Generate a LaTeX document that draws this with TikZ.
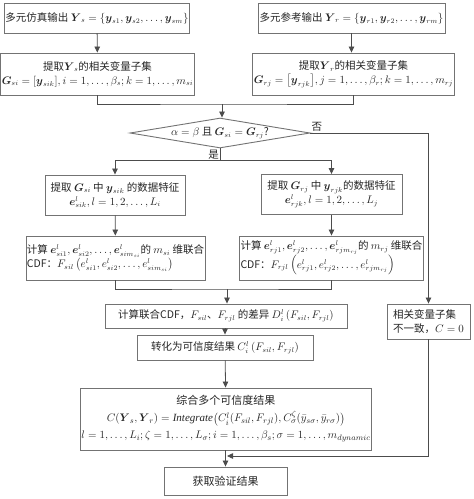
\documentclass[tikz,border=0pt]{standalone}
\usepackage{amsmath}
\usepackage{fontspec}
\setmainfont{Liberation Serif}
\newfontfamily\cjk{Noto Sans CJK SC}
\usetikzlibrary{shapes.geometric,arrows.meta}

\begin{document}
\begin{tikzpicture}[x=1pt, y=-1pt,
  box/.style={draw=black!55, line width=0.9pt, fill=white, inner sep=1pt,
    font=\cjk\fontsize{10.5}{14}\selectfont, text=black!85, align=center},
  link/.style={draw=black!70, line width=0.8pt},
  flow/.style={link, -{Triangle[length=6pt,width=5.5pt]}}]
  \useasboundingbox (0,0) rectangle (474,499);

  % Outputs of simulation and reference
  \node[box, minimum width=184pt, minimum height=30pt] (ys) at (97,18)
    {多元仿真输出 $\boldsymbol{Y}_s=\{\boldsymbol{y}_{s1},\boldsymbol{y}_{s2},\dots,\boldsymbol{y}_{sm}\}$};
  \node[box, minimum width=187pt, minimum height=30pt] (yr) at (351.5,18)
    {多元参考输出 $\boldsymbol{Y}_r=\{\boldsymbol{y}_{r1},\boldsymbol{y}_{r2},\dots,\boldsymbol{y}_{rm}\}$};

  % Related variable subsets
  \node[box, minimum width=185pt, minimum height=42pt] (gs) at (97.5,74)
    {提取$\boldsymbol{Y}_s$的相关变量子集\\
     $\boldsymbol{G}_{si}=\left[\boldsymbol{y}_{sik}\right]\!, i=1,\dots,\beta_s; k=1,\dots,m_{si}$};
  \node[box, minimum width=189pt, minimum height=42pt] (gr) at (353.5,74)
    {提取$\boldsymbol{Y}_r$的相关变量子集\\
     $\boldsymbol{G}_{rj}=\left[\boldsymbol{y}_{rjk}\right]\!, j=1,\dots,\beta_r; k=1,\dots,m_{rj}$};

  % Decision
  \node[box, shape=diamond, aspect=6, inner sep=0pt, minimum width=180pt, minimum height=30pt] (dia) at (220,133)
    {$\alpha=\beta$ 且 $\boldsymbol{G}_{si}=\boldsymbol{G}_{rj}$?};

  % Data features
  \node[box, minimum width=140pt, minimum height=40pt] (es) at (115,195)
    {提取 $\boldsymbol{G}_{si}$ 中 $\boldsymbol{y}_{sik}$ 的数据特征\\
     $\boldsymbol{e}^{l}_{sik}, l=1,2,\dots,L_i$};
  \node[box, minimum width=141pt, minimum height=40pt] (er) at (331.5,194.5)
    {提取 $\boldsymbol{G}_{rj}$ 中 $\boldsymbol{y}_{rjk}$的数据特征\\
     $\boldsymbol{e}^{l}_{rjk}, l=1,2,\dots,L_j$};

  % Joint CDF
  \node[box, align=left, minimum width=175pt, minimum height=44pt] (fs) at (115.5,258)
    {计算 $\boldsymbol{e}^l_{si1},\boldsymbol{e}^l_{si2},\dots,\boldsymbol{e}^l_{sim_{si}}$的 $m_{si}$ 维联合\\
     CDF：$F_{sil}\left(e^l_{si1},e^l_{si2},\dots,e^l_{sim_{si}}\right)$};
  \node[box, align=left, minimum width=177pt, minimum height=44pt] (fr) at (331.5,258)
    {计算 $\boldsymbol{e}^l_{rj1},\boldsymbol{e}^l_{rj2},\dots,\boldsymbol{e}^l_{rjm_{rj}}$的 $m_{rj}$ 维联合\\
     CDF：$F_{rjl}\left(e^l_{rj1},e^l_{rj2},\dots,e^l_{rjm_{rj}}\right)$};

  % Difference and credibility
  \node[box, minimum width=242pt, minimum height=24pt] (dd) at (226,316)
    {计算联合CDF，$F_{sil}$、$F_{rjl}$ 的差异 $D^l_i\left(F_{sil},F_{rjl}\right)$};
  \node[box, minimum width=176pt, minimum height=25pt] (cc) at (225,347.5)
    {转化为可信度结果 $C^l_i\left(F_{sil},F_{rjl}\right)$};

  % Inconsistent subsets
  \node[box, align=left, minimum width=83pt, minimum height=35pt] (no) at (428.5,321.5)
    {相关变量子集\\不一致，$C=0$};

  % Integration and result
  \node[box, font=\cjk\fontsize{11}{17}\selectfont, minimum width=262pt, minimum height=62pt] (intg) at (226,419)
    {综合多个可信度结果\\
     $C(\boldsymbol{Y}_s,\boldsymbol{Y}_r)=\mathit{Integrate}\bigl(C^l_i(F_{sil},F_{rjl}),C^{\zeta}_{\sigma}(\bar{y}_{s\sigma},\bar{y}_{r\sigma})\bigr)$\\
     $l=1,\dots,L_i;\zeta=1,\dots,L_\sigma;i=1,\dots,\beta_s;\sigma=1,\dots,m_{dynamic}$};
  \node[box, font=\cjk\fontsize{11}{14}\selectfont, minimum width=123pt, minimum height=28pt] (res) at (225.5,481) {获取验证结果};

  % Junction points
  \coordinate (j1) at (222,104);
  \coordinate (j2) at (220,160);
  \coordinate (j3) at (227,289);
  \coordinate (j4) at (227,456);

  % Connectors
  \draw[flow] (ys) -- (gs);
  \draw[flow] (yr.south) -- (yr.south |- gr.north);
  \draw[link] (gs.south) |- (j1) -| (gr.south);
  \draw[flow] (j1) -- (j1 |- dia.north);
  \draw[flow] (dia.east) -| (no.north);
  \draw[link] (dia.south) -- (j2);
  \draw[flow] (j2) -| (es.north);
  \draw[flow] (j2) -| (er.north);
  \draw[flow] (es) -- (fs);
  \draw[flow] (er) -- (fr);
  \draw[link] (fs.south) |- (j3) -| (fr.south);
  \draw[flow] (j3) -- (j3 |- dd.north);
  \draw[flow] (dd.south -| cc.north) -- (cc.north);
  \draw[flow] (cc) -- (intg);
  \draw[flow] (intg.south -| res.north) -- (res.north);
  \draw[flow] (no.south) |- (j4);

  % Branch labels
  \node[font=\cjk\fontsize{10.5}{12}\selectfont, text=black!85, anchor=south west, inner sep=1pt] (nolab) at (dia.east) {否};
  \node[font=\cjk\fontsize{10.5}{12}\selectfont, text=black!85, anchor=north east, inner sep=1pt] (yeslab) at (dia.south) {是};
\end{tikzpicture}
\end{document}
